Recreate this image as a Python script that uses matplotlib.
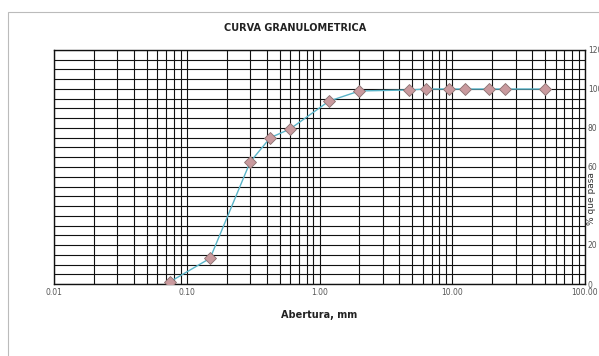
import matplotlib.pyplot as plt
from matplotlib.ticker import FixedLocator, LogLocator, NullFormatter, MultipleLocator
from matplotlib.patches import Rectangle

# sieve openings (mm) and % passing
abertura = [0.075, 0.15, 0.30, 0.425, 0.60, 1.18, 2.00, 4.75, 6.30, 9.50, 12.50, 19.00, 25.00, 50.00]
pasa = [1.2, 13.2, 62.5, 75.0, 79.5, 93.8, 99.0, 99.5, 100.0, 100.0, 100.0, 100.0, 100.0, 100.0]

x_ticks = [0.01, 0.1, 1, 10, 100]
x_labels = ["0.01", "0.10", "1.00", "10.00", "100.00"]
y_ticks = [0, 20, 40, 60, 80, 100, 120]
y_labels = ["0", "20", "", "60", "80", "100", "120"]  # 40 hidden under the axis title

fig = plt.figure(figsize=(5.99, 3.56), dpi=100)
fig.patch.set_facecolor("white")

# faint page frame
fig.patches.append(Rectangle((8 / 599, -0.1), 1.2, 1 - 12 / 356 + 0.1,
                             transform=fig.transFigure, fill=False,
                             edgecolor="#bbbbbb", lw=0.8))

ax = fig.add_axes([54 / 599, 1 - 284 / 356, (585 - 54) / 599, (284 - 50) / 356])
ax.set_xscale("log")
ax.set_xlim(0.01, 100)
ax.set_ylim(0, 120)

ax.xaxis.set_major_locator(FixedLocator(x_ticks))
ax.set_xticklabels(x_labels)
ax.xaxis.set_minor_locator(LogLocator(base=10, subs=range(2, 10)))
ax.xaxis.set_minor_formatter(NullFormatter())

ax.yaxis.tick_right()
ax.yaxis.set_label_position("right")
ax.set_yticks(y_ticks)
ax.set_yticklabels(y_labels)
ax.yaxis.set_minor_locator(MultipleLocator(5))

ax.grid(True, which="both", axis="both", color="#111111", lw=0.8)
ax.set_axisbelow(True)
ax.tick_params(which="both", length=0, labelsize=5.5, colors="#555555", pad=3)
ax.tick_params(axis="y", pad=2)
for s in ax.spines.values():
    s.set_color("#111111")
    s.set_linewidth(1.0)

ax.plot(abertura, pasa, color="#5ab4c8", lw=1.0, marker="D", markersize=6,
        markerfacecolor="#c99a9e", markeredgecolor="#8a7070", markeredgewidth=0.6,
        zorder=3)

ax.set_title("CURVA GRANULOMETRICA", fontsize=7, fontweight="bold", pad=14,
             color="#222222", x=0.455)
ax.set_xlabel("Abertura, mm", fontsize=7, fontweight="bold", color="#222222", labelpad=9)
ax.set_ylabel("% que pasa", fontsize=6.5, color="#333333", rotation=90)
ax.yaxis.set_label_coords(1.003, 0.367)

fig.savefig("out.png", dpi=100)
